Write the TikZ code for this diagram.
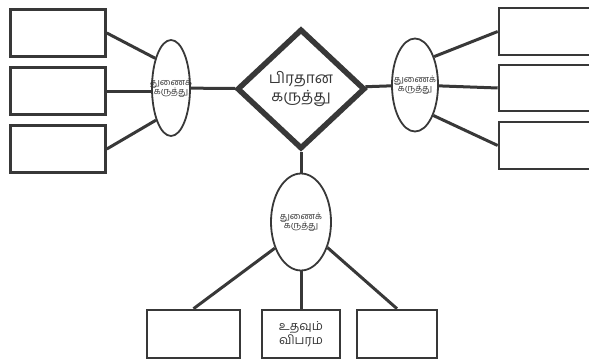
\documentclass[tikz,border=0pt]{standalone}
\usepackage{fontspec}
\newfontfamily\tamil[Script=Tamil]{Hind Madurai}
\usetikzlibrary{shapes.geometric}
\definecolor{ink}{HTML}{383838}
\tikzset{
  leafbox/.style={draw=ink, line width=2.6pt, rectangle, inner sep=0pt, font=\tamil\fontsize{12.5}{14}\selectfont, text=ink, align=center},
  subidea/.style={draw=ink, line width=1.8pt, ellipse, inner sep=0pt, font=\tamil\fontsize{9}{10}\selectfont, text=ink},
  mainidea/.style={draw=ink, line width=5.5pt, diamond, inner sep=0pt, font=\tamil\fontsize{15.5}{18}\selectfont, text=ink, align=center},
  conn/.style={draw=ink, line width=3pt}
}
\newcommand{\subtxt}{\makebox[0pt]{\begin{tabular}{@{}c@{}}துணைக்\\[-1pt]கருத்து\end{tabular}}}
\begin{document}
\begin{tikzpicture}[x=1pt,y=-1pt]
\useasboundingbox (0,0) rectangle (589,361);
% main idea
\node[mainidea, minimum width=128pt, minimum height=120pt] (dia) at (301,89) {பிரதான\\கருத்து};
% sub ideas
\node[subidea, minimum width=38pt, minimum height=96pt] (le) at (171,88) {\subtxt};
\node[subidea, minimum width=46pt, minimum height=93pt] (re) at (415,85) {\subtxt};
\node[subidea, minimum width=60pt, minimum height=97pt] (be) at (301,222) {\subtxt};
% left boxes
\node[leafbox, minimum width=95pt, minimum height=47pt] (lb1) at (58,33) {};
\node[leafbox, minimum width=95pt, minimum height=47pt] (lb2) at (58,91) {};
\node[leafbox, minimum width=95pt, minimum height=47pt] (lb3) at (58,149) {};
% right boxes
\node[leafbox, minimum width=96pt, minimum height=47pt] (rb1) at (547,31.5) {};
\node[leafbox, minimum width=96pt, minimum height=46pt] (rb2) at (547,88) {};
\node[leafbox, minimum width=96pt, minimum height=47pt] (rb3) at (547,145.5) {};
% bottom boxes
\node[leafbox, minimum width=93pt, minimum height=48pt] (bb1) at (193.5,334) {};
\node[leafbox, minimum width=78pt, minimum height=48pt] (bb2) at (301,334) {உதவும்\\விபரம};
\node[leafbox, minimum width=80pt, minimum height=48pt] (bb3) at (397,334) {};
% connectors
\draw[conn] (le) -- (dia);
\draw[conn] (dia) -- (re);
\draw[conn] (dia) -- (be);
\draw[conn] (lb1.east) -- (le.118);
\draw[conn] (lb2.east) -- (lb2.east -| le.west);
\draw[conn] (lb3.east) -- (le.245);
\draw[conn] (re.56) -- (rb1.west);
\draw[conn] (re) -- (rb2.west);
\draw[conn] (re.301) -- (rb3.west);
\draw[conn] (be.225) -- (bb1.north);
\draw[conn] (be) -- (bb2.north);
\draw[conn] (be.316) -- (bb3.north);
\end{tikzpicture}
\end{document}
